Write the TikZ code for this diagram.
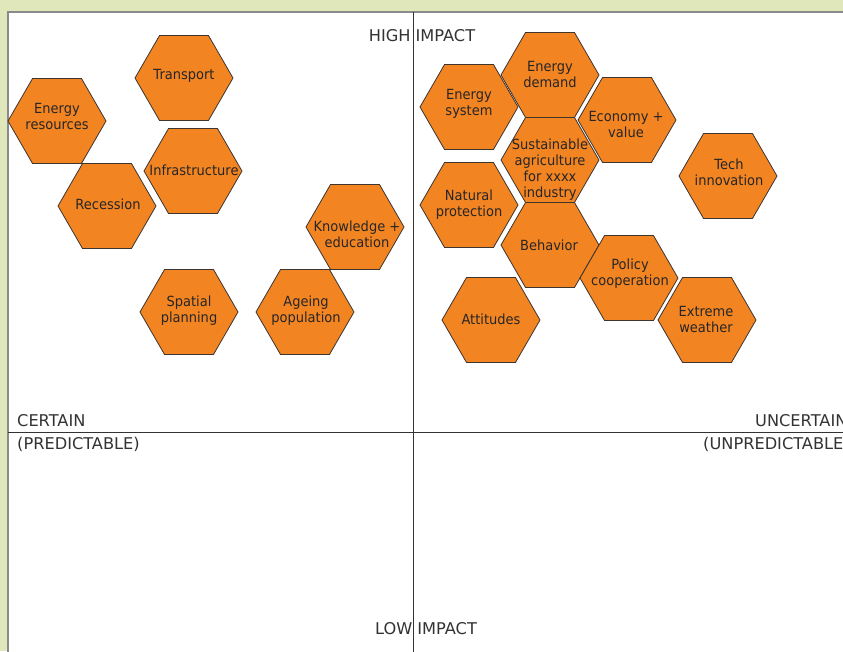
\documentclass[tikz,border=0pt]{standalone}
\usepackage{fontspec}
\setmainfont[FakeStretch=0.93]{DejaVu Sans}
\newfontfamily\axisfont{DejaVu Sans}
\usetikzlibrary{shapes.geometric}
\definecolor{bggreen}{HTML}{DFE7BB}
\definecolor{hexorange}{HTML}{F38422}
\definecolor{hexline}{HTML}{3C3530}
\definecolor{axisgray}{HTML}{333333}
\definecolor{panelgray}{HTML}{8A8A8A}
\tikzset{
  hexa/.style={regular polygon, regular polygon sides=6, minimum size=98pt,
    inner sep=0pt, fill=hexorange, draw=hexline, line width=0.8pt},
  hextext/.style={align=center, font=\fontsize{14}{16}\selectfont, text=black!85, inner sep=0pt},
  axistext/.style={font=\axisfont\fontsize{16.2}{18}\selectfont, text=axisgray, inner sep=0pt},
  axisline/.style={draw=axisgray, line width=0.9pt},
}
\begin{document}
\begin{tikzpicture}[x=1pt,y=-1pt]
\useasboundingbox (0,0) rectangle (843,651);
\clip (0,0) rectangle (843,651);
\fill[bggreen] (0,0) rectangle (843,651);
\filldraw[fill=white, draw=panelgray, line width=1.4pt] (8,12) rectangle (860,670);

% axes
\coordinate (vtop) at (413,12);
\coordinate (vbot) at (413,660);
\coordinate (hleft) at (8,432);
\coordinate (hright) at (850,432);
\draw[axisline] (vtop) -- (vbot);
\draw[axisline] (hleft) -- (hright);

\node[axistext] (high) at (422,36) {HIGH IMPACT};
\node[axistext] (low) at (426,629) {LOW IMPACT};
\node[axistext, anchor=west] (certain) at (17,420.5) {CERTAIN};
\node[axistext, anchor=west] (predictable) at (17,444) {(PREDICTABLE)};
\node[axistext, anchor=west] (uncertain) at (755,420.5) {UNCERTAIN};
\node[axistext, anchor=west] (unpredictable) at (703,444) {(UNPREDICTABLE)};

% hexagons (left half)
\node[hexa] (enres) at (57,121) {};
\node[hextext] at (57,116) {Energy\\resources};
\node[hexa] (transport) at (184,78) {};
\node[hextext] at (184,76) {Transport};
\node[hexa] (infra) at (193,171) {};
\node[hextext] at (194,170) {Infrastructure};
\node[hexa] (recession) at (107,206) {};
\node[hextext] at (108,204) {Recession};
\node[hexa] (knowledge) at (355,227) {};
\node[hextext] at (357,234) {Knowledge +\\education};
\node[hexa] (spatial) at (189,312) {};
\node[hextext] at (189,311) {Spatial\\planning};
\node[hexa] (ageing) at (305,312) {};
\node[hextext] at (306,311) {Ageing\\population};

% hexagons (right half)
\node[hexa] (ensys) at (469,107) {};
\node[hextext] at (469,103.5) {Energy\\system};
\node[hexa] (endem) at (550,75) {};
\node[hextext] at (550,74.5) {Energy\\demand};
\node[hexa] (economy) at (627,120) {};
\node[hextext] at (626,124) {Economy +\\value};
\node[hexa] (tech) at (728,176) {};
\node[hextext] at (729,172) {Tech\\innovation};
\node[hexa] (natural) at (469,205) {};
\node[hextext] at (469,204.5) {Natural\\protection};
\node[hexa] (behavior) at (550,245) {};
\node[hextext] at (549,245) {Behavior};
\node[hexa] (sustain) at (550,160) {};
\node[hextext] at (550,170) {Sustainable\\agriculture\\for xxxx\\industry};
\node[hexa] (policy) at (629,278) {};
\node[hextext] at (630,274) {Policy\\cooperation};
\node[hexa] (extreme) at (707,320) {};
\node[hextext] at (706,319) {Extreme\\weather};
\node[hexa] (attitudes) at (491,320) {};
\node[hextext] at (491,319) {Attitudes};
\end{tikzpicture}
\end{document}
